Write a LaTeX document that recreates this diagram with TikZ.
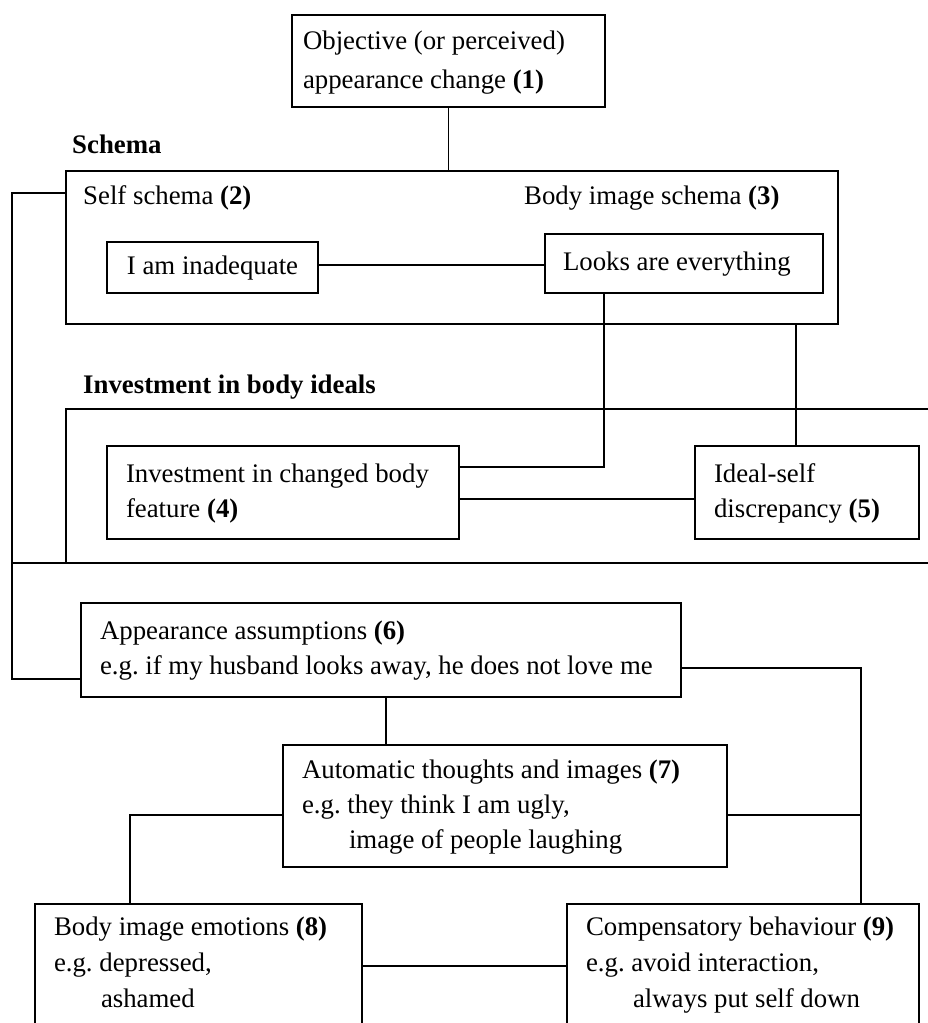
\documentclass[tikz,border=0pt]{standalone}
\usepackage{fontspec}
\setmainfont{Liberation Serif}
\newcommand{\oneline}[1]{\mbox{#1}}
\frenchspacing
\begin{document}
\frenchspacing
\begin{tikzpicture}[x=1pt,y=-1pt,
  every node/.style={font=\fontsize{26.8}{35}\selectfont},
  box/.style={draw, line width=1.7pt, rectangle, inner ysep=0pt, inner xsep=19pt,
    outer sep=0pt, align=left,
    execute at begin node={\spaceskip=0pt\xspaceskip=0pt\relax}},
  frame/.style={draw, line width=1.7pt, rectangle, inner sep=0pt, outer sep=0pt},
  link/.style={line width=1.2pt},
  heading/.style={anchor=base west, inner sep=0pt,
    font=\fontsize{26.8}{35}\selectfont\bfseries},
  caption/.style={anchor=base west, inner sep=0pt}]

% page
\useasboundingbox (0,0) rectangle (928,1023);
\fill[white] (0,0) rectangle (928,1023);
\clip (0,0) rectangle (928,1023);

% group frames and their headings
\node[frame, minimum width=772pt, minimum height=153pt] (schema) at (452,247.5) {};
\node[frame, minimum width=874pt, minimum height=154pt] (inv) at (503,486) {};
\node[heading] (schemahd) at (72,153) {Schema};
\node[caption] (selfhd) at (83,204) {Self schema \textbf{(2)}};
\node[caption] (bodyhd) at (524,204) {Body image schema \textbf{(3)}};
\node[heading] (invhd) at (83,393) {Investment in body ideals};

% boxes
\node[box, inner xsep=11pt, text width=291pt, minimum width=313pt, minimum height=92pt,
  font=\fontsize{26.8}{39}\selectfont] (change) at (448.5,61)
  {\strut\oneline{Objective (or perceived)}\\\oneline{appearance change \textbf{(1)}}\strut};
\node[box, minimum width=211pt, minimum height=51pt] (ia) at (212.5,267.5)
  {\strut I am inadequate\strut};
\node[box, inner xsep=18pt, text width=242pt, minimum width=278pt, minimum height=59pt]
  (le) at (684,263.5) {\strut\oneline{Looks are everything}\strut};
\node[box, text width=314pt, minimum width=352pt, minimum height=93pt] (b4) at (283,492.5)
  {\strut\oneline{Investment in changed body}\\feature \textbf{(4)}\strut};
\node[box, text width=186pt, minimum width=224pt, minimum height=93pt] (b5) at (807,492.5)
  {\strut Ideal-self\\\oneline{discrepancy \textbf{(5)}}\strut};
\node[box, text width=562pt, minimum width=600pt, minimum height=94pt] (b6) at (381,650)
  {\strut\oneline{Appearance assumptions \textbf{(6)}}\\
   \oneline{e.g. if my husband looks away, he does not love me}\strut};
\node[box, text width=406pt, minimum width=444pt, minimum height=122pt] (b7) at (505,806)
  {\strut\oneline{Automatic thoughts and images \textbf{(7)}}\\
   \oneline{e.g. they think I am ugly,}\\
   \hspace*{47pt}\oneline{image of people laughing}\strut};
\node[box, text width=289pt, minimum width=327pt, minimum height=120pt,
  font=\fontsize{26.8}{36}\selectfont] (b8) at (198.5,964)
  {\strut\oneline{Body image emotions \textbf{(8)}}\\
   e.g. depressed,\\
   \hspace*{47pt}ashamed\strut};
\node[box, text width=314pt, minimum width=352pt, minimum height=120pt,
  font=\fontsize{26.8}{36}\selectfont] (b9) at (743,964)
  {\strut\oneline{Compensatory behaviour \textbf{(9)}}\\
   \oneline{e.g. avoid interaction,}\\
   \hspace*{47pt}\oneline{always put self down}\strut};

% bend points of the connectors
\coordinate (k0) at (0,265);
\coordinate (k1) at (604,467);
\coordinate (k2) at (796,0);
\coordinate (k3) at (0,499);
\coordinate (k4) at (12,193);
\coordinate (k5) at (12,679);
\coordinate (k6) at (386,0);
\coordinate (k7) at (861,668);
\coordinate (k8) at (130,815);
\coordinate (k9) at (0,966);

% connectors
\draw[link] (change.south) -- (change.south |- schema.north);
\draw[link] (k0 -| ia.east) -- (k0 -| le.west);
\draw[link] (k1 |- le.south) -- (k1) -- (k1 -| b4.east);
\draw[link] (k2 |- schema.south) -- (k2 |- b5.north);
\draw[link] (k3 -| b4.east) -- (k3 -| b5.west);
\draw[link] (k4 -| schema.west) -- (k4) -- (k5) -- (k5 -| b6.west);
\draw[line width=1.7pt] (k4 |- inv.south) -- (inv.south west);
\draw[link] (k6 |- b6.south) -- (k6 |- b7.north);
\draw[link] (k7 -| b6.east) -- (k7) -- (k7 |- b9.north);
\draw[link] (k8 -| b7.west) -- (k8) -- (k8 |- b8.north);
\draw[link] (k8 -| b7.east) -- (k8 -| k7);
\draw[link] (k9 -| b8.east) -- (k9 -| b9.west);
\end{tikzpicture}
\end{document}
